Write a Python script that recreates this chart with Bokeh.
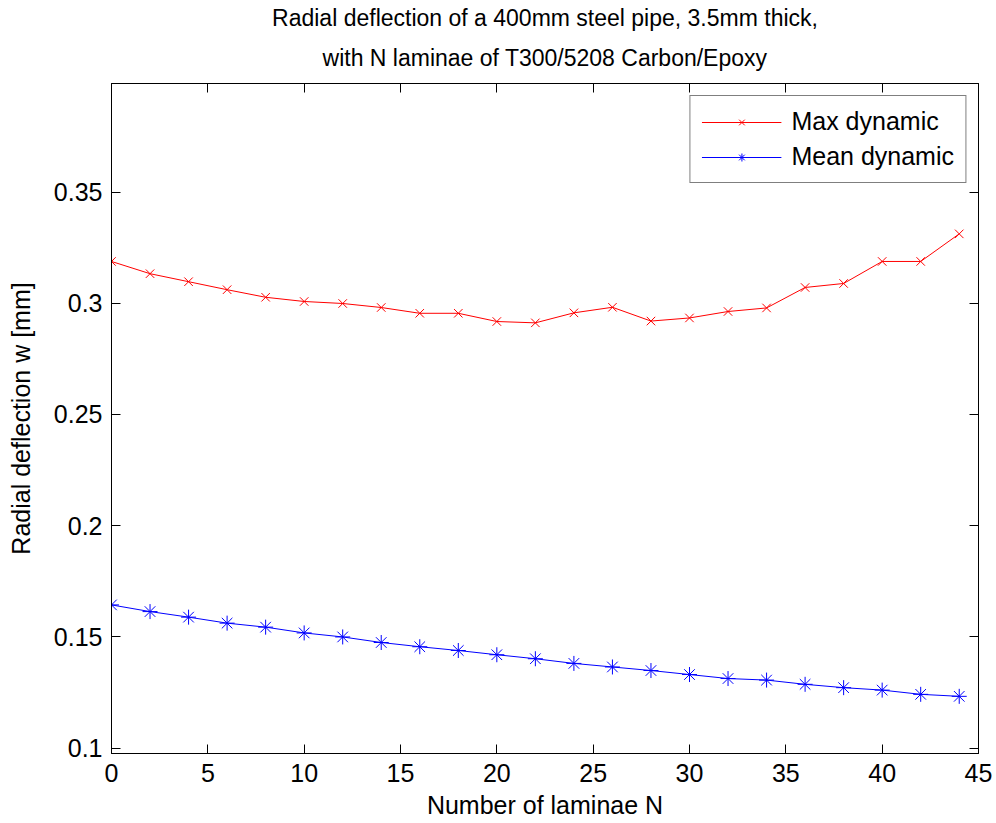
from bokeh.plotting import figure
from bokeh.models import Range1d, LinearAxis, FixedTicker, Title
from bokeh.embed import file_html
from bokeh.resources import INLINE

# Number of T300/5208 laminae wrapped around the pipe
laminae = [0, 2, 4, 6, 8, 10, 12, 14, 16, 18, 20, 22,
           24, 26, 28, 30, 32, 34, 36, 38, 40, 42, 44]

# Radial deflection w [mm]
max_dynamic = [0.3188, 0.3133, 0.3097, 0.3061, 0.3027, 0.3008, 0.2999, 0.2981,
               0.2955, 0.2955, 0.2918, 0.2912, 0.2957, 0.2982, 0.2920, 0.2934,
               0.2963, 0.2979, 0.3071, 0.3089, 0.3188, 0.3188, 0.3312]
mean_dynamic = [0.1644, 0.1614, 0.1589, 0.1562, 0.1544, 0.1518, 0.1500, 0.1475,
                0.1456, 0.1439, 0.1420, 0.1402, 0.1381, 0.1365, 0.1349, 0.1331,
                0.1313, 0.1306, 0.1287, 0.1272, 0.1261, 0.1242, 0.1233]

x_ticks = [0, 5, 10, 15, 20, 25, 30, 35, 40, 45]
y_ticks = [0.1, 0.15, 0.2, 0.25, 0.3, 0.35]
y_tick_labels = ["0.1", "0.15", "0.2", "0.25", "0.3", "0.35"]

title_lines = ["Radial deflection of a 400mm steel pipe, 3.5mm thick,",
               "with N laminae of T300/5208 Carbon/Epoxy"]

FONT = "Liberation Sans"
TEXT_FS = "25px"

p = figure(width=996, height=823, output_backend="svg", toolbar_location=None,
           x_range=Range1d(0, 45), y_range=Range1d(0.0976, 0.3988),
           min_border_left=111, min_border_right=18,
           min_border_top=83, min_border_bottom=70,
           background_fill_color="white", border_fill_color="white")

p.grid.visible = False
p.outline_line_color = "black"
p.outline_line_width = 1

y_labels = dict(zip(y_ticks, y_tick_labels))


def style_axis(ax, ticks, show_labels):
    ax.ticker = FixedTicker(ticks=ticks)
    ax.major_tick_in = 9
    ax.major_tick_out = 0
    ax.minor_tick_in = 0
    ax.minor_tick_out = 0
    ax.axis_line_color = "black"
    ax.major_tick_line_color = "black"
    ax.major_label_text_font = FONT
    ax.major_label_text_color = "black"
    ax.axis_label_text_font = FONT
    ax.axis_label_text_font_style = "normal"
    ax.axis_label_text_color = "black"
    ax.axis_label_text_font_size = TEXT_FS
    if show_labels:
        ax.major_label_text_font_size = TEXT_FS
    else:
        # tick marks only on the opposite sides of the box
        ax.major_label_text_font_size = "1px"
        ax.major_label_text_color = None
        ax.major_label_standoff = 0


xa = p.xaxis[0]
style_axis(xa, x_ticks, True)
xa.axis_label = "Number of laminae N"
xa.major_label_standoff = 10
xa.axis_label_standoff = 6

ya = p.yaxis[0]
style_axis(ya, y_ticks, True)
ya.major_label_overrides = y_labels
ya.axis_label = "Radial deflection w [mm]"
ya.major_label_standoff = 9
ya.axis_label_standoff = 16

# box ticks: top axis sits right against the frame
top = LinearAxis()
style_axis(top, x_ticks, False)
p.add_layout(top, "above")

right = LinearAxis()
style_axis(right, y_ticks, False)
p.add_layout(right, "right")

# two-line centred title, second line closest to the plot
p.add_layout(Title(text=title_lines[1], align="center", text_font=FONT,
                   text_font_size="23px", text_font_style="normal",
                   text_color="black", standoff=25), "above")
p.title.text = title_lines[0]
p.title.align = "center"
p.title.text_font = FONT
p.title.text_font_size = "23px"
p.title.text_font_style = "normal"
p.title.text_color = "black"
p.title.standoff = 0

# series
p.line(laminae, max_dynamic, line_color="#FF0000", line_width=1, legend_label="Max dynamic")
p.scatter(laminae, max_dynamic, marker="x", size=12, line_color="#FF0000",
          line_width=1, legend_label="Max dynamic")
p.line(laminae, mean_dynamic, line_color="#0000FF", line_width=1, legend_label="Mean dynamic")
p.scatter(laminae, mean_dynamic, marker="asterisk", size=15, line_color="#0000FF",
          line_width=1, legend_label="Mean dynamic")

lg = p.legend[0]
lg.location = "top_right"
lg.margin = 12
lg.padding = 11
lg.spacing = 6
lg.glyph_width = 80
lg.glyph_height = 20
lg.label_height = 20
lg.label_standoff = 10
lg.label_text_font = FONT
lg.label_text_font_size = TEXT_FS
lg.label_text_color = "black"
lg.border_line_color = "black"
lg.border_line_width = 1
lg.background_fill_color = "white"
lg.background_fill_alpha = 1.0

open("out.html", "w").write(file_html(p, INLINE))
